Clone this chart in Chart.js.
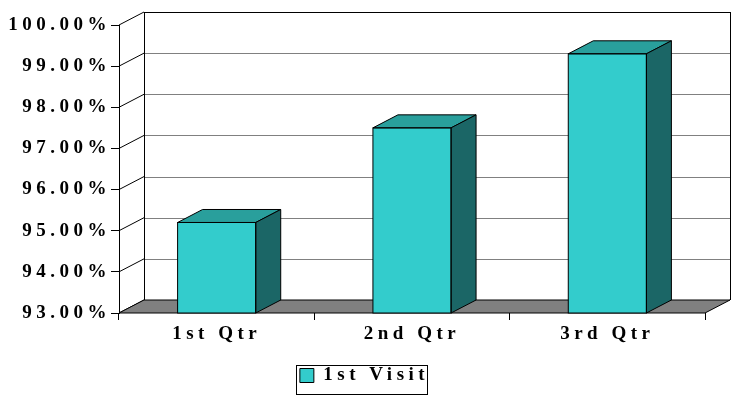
<!DOCTYPE html>
<html>
<head>
<meta charset="utf-8">
<script src="https://cdn.jsdelivr.net/npm/chart.js@4"></script>
<style>
  html, body { margin: 0; padding: 0; background: #fff; }
  #wrap { width: 736px; height: 395px; }
</style>
</head>
<body>
<div id="wrap"><canvas id="chart"></canvas></div>
<script>
/* ===============================
   DATA
================================= */
const categories = ["1st Qtr", "2nd Qtr", "3rd Qtr"];
const visitValues = [95.2, 97.5, 99.3];
const seriesLabel = "1st Visit";
const yMin = 93;
const yMax = 100;

/* ===============================
   STYLE
================================= */
const FONT = { family: "'Liberation Serif', 'Times New Roman', serif", size: 19, weight: "bold" };
const SPACING = "4.5px";
const DEPTH_X = 25;
const DEPTH_Y = -13;
const FRONT = "#33CCCC";
const TOP = "#299F9C";
const SIDE = "#1B6666";
const FLOOR = "#808080";
const LEGEND_SHIFT = { x: 12, y: 4 };

/* ===============================
   HELPERS
================================= */
function poly(ctx, pts, fill) {
  ctx.beginPath();
  ctx.moveTo(pts[0][0], pts[0][1]);
  for (let i = 1; i < pts.length; i++) ctx.lineTo(pts[i][0], pts[i][1]);
  ctx.closePath();
  if (fill) { ctx.fillStyle = fill; ctx.fill(); }
  ctx.stroke();
}

/* ===============================
   PLUGINS
================================= */
const spacingPlugin = {
  id: "spacing",
  beforeLayout(chart) { chart.ctx.letterSpacing = SPACING; },
  afterLayout(chart) {
    // nudge the legend to where the original sits
    const L = chart.legend;
    if (!L) return;
    L.left += LEGEND_SHIFT.x; L.right += LEGEND_SHIFT.x;
    L.top += LEGEND_SHIFT.y; L.bottom += LEGEND_SHIFT.y;
    L.legendHitBoxes.forEach(h => { h.left += LEGEND_SHIFT.x; h.top += LEGEND_SHIFT.y; });
  },
  beforeDraw(chart) { chart.ctx.letterSpacing = SPACING; }
};

const box3d = {
  id: "box3d",
  beforeDatasetsDraw(chart) {
    const ctx = chart.ctx;
    const ca = chart.chartArea;
    const y = chart.scales.y;
    ctx.save();
    ctx.lineWidth = 1;

    // back wall grid
    for (let v = yMin + 1; v <= yMax; v++) {
      const py = Math.round(y.getPixelForValue(v) + DEPTH_Y) + 0.5;
      ctx.strokeStyle = v === yMax ? "#000" : "#808080";
      ctx.beginPath();
      ctx.moveTo(ca.left + DEPTH_X, py);
      ctx.lineTo(ca.right + DEPTH_X, py);
      ctx.stroke();
    }
    // left wall diagonals
    ctx.strokeStyle = "#000";
    for (let v = yMin; v <= yMax; v++) {
      const py = y.getPixelForValue(v);
      ctx.beginPath();
      ctx.moveTo(ca.left, py);
      ctx.lineTo(ca.left + DEPTH_X, py + DEPTH_Y);
      ctx.stroke();
    }
    // back wall edges
    const bl = Math.round(ca.left + DEPTH_X) + 0.5;
    const br = Math.round(ca.right + DEPTH_X) + 0.5;
    ctx.beginPath();
    ctx.moveTo(bl, ca.top + DEPTH_Y);
    ctx.lineTo(bl, ca.bottom + DEPTH_Y);
    ctx.moveTo(br, ca.top + DEPTH_Y);
    ctx.lineTo(br, ca.bottom + DEPTH_Y);
    ctx.stroke();

    // floor
    poly(ctx, [
      [ca.left, ca.bottom],
      [ca.right, ca.bottom],
      [ca.right + DEPTH_X, ca.bottom + DEPTH_Y],
      [ca.left + DEPTH_X, ca.bottom + DEPTH_Y]
    ], FLOOR);
    ctx.restore();
  },
  afterDatasetsDraw(chart) {
    const ctx = chart.ctx;
    const ca = chart.chartArea;
    const meta = chart.getDatasetMeta(0);
    ctx.save();
    ctx.lineWidth = 1;
    ctx.strokeStyle = "#000";
    meta.data.forEach(bar => {
      const l = bar.x - bar.width / 2;
      const r = bar.x + bar.width / 2;
      const t = bar.y;
      const b = Math.min(bar.base, ca.bottom);
      poly(ctx, [[l, t], [r, t], [r + DEPTH_X, t + DEPTH_Y], [l + DEPTH_X, t + DEPTH_Y]], TOP);
      poly(ctx, [[r, t], [r + DEPTH_X, t + DEPTH_Y], [r + DEPTH_X, b + DEPTH_Y], [r, b]], SIDE);
      // front face outline (base is clipped below the chart area)
      ctx.strokeRect(l, t, r - l, b - t);
    });
    ctx.restore();
  },
  afterDraw(chart) {
    const hb = chart.legend && chart.legend.legendHitBoxes && chart.legend.legendHitBoxes[0];
    if (!hb) return;
    const ctx = chart.ctx;
    ctx.save();
    ctx.strokeStyle = "#000";
    ctx.lineWidth = 1;
    ctx.strokeRect(Math.round(hb.left - 4) + 0.5, Math.round(hb.top - 5) + 0.5,
      Math.round(hb.width + 2), Math.round(hb.height + 10));
    ctx.restore();
  }
};

/* ===============================
   CHART
================================= */
new Chart(document.getElementById("chart"), {
  type: "bar",
  data: {
    labels: categories,
    datasets: [{
      label: seriesLabel,
      data: visitValues,
      backgroundColor: FRONT,
      borderWidth: 0,
      categoryPercentage: 1,
      barPercentage: 0.4
    }]
  },
  options: {
    responsive: true,
    maintainAspectRatio: false,
    animation: false,
    layout: { padding: { left: 0, right: 31, top: 25, bottom: 4 } },
    plugins: {
      legend: {
        position: "bottom",
        labels: {
          color: "#000",
          font: FONT,
          boxWidth: 14,
          boxHeight: 14,
          padding: 6,
          generateLabels: chart => [{
            text: seriesLabel,
            fillStyle: FRONT,
            strokeStyle: "#000",
            lineWidth: 1,
            datasetIndex: 0
          }]
        }
      },
      tooltip: { enabled: false }
    },
    scales: {
      x: {
        grid: { display: true, drawOnChartArea: false, tickLength: 7, color: "#000", offset: true },
        border: { display: false },
        ticks: { color: "#000", font: FONT, padding: 3 },
        afterFit(scale) {
          const lh = scale.chart.legend ? scale.chart.legend.height : 0;
          scale.height = 395 - 4 - lh - 313;
        }
      },
      y: {
        min: yMin,
        max: yMax,
        grid: { display: true, drawOnChartArea: false, tickLength: 8, color: "#000" },
        border: { display: true, color: "#000" },
        ticks: {
          stepSize: 1,
          color: "#000",
          font: FONT,
          padding: 0,
          callback: v => v.toFixed(2) + "%"
        },
        afterFit(scale) { scale.width = 119; }
      }
    }
  },
  plugins: [spacingPlugin, box3d]
});
</script>
</body>
</html>
